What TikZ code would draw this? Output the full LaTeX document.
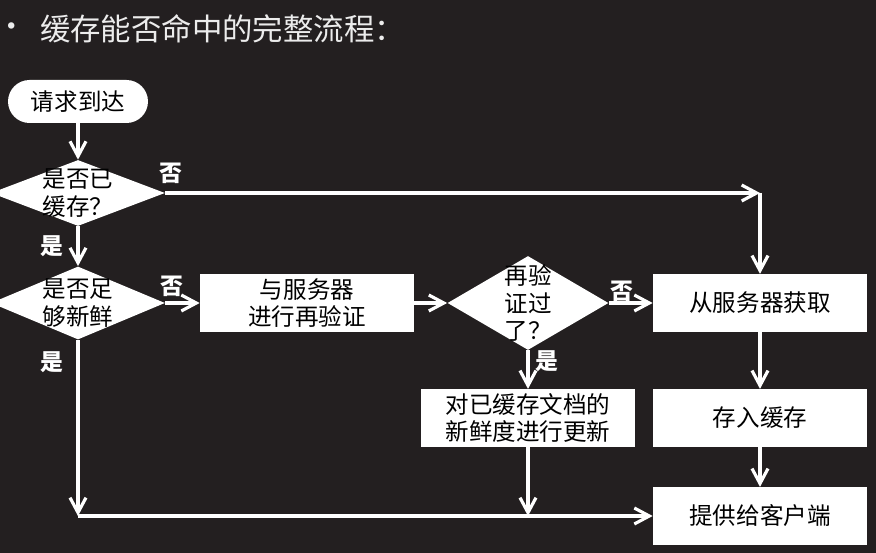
\documentclass[tikz,border=0pt]{standalone}
\usepackage{fontspec}
\setmainfont{Noto Sans CJK SC}
\usetikzlibrary{arrows.meta,shapes.geometric}
\definecolor{bgdark}{RGB}{35,31,32}
\definecolor{titlegray}{RGB}{236,236,236}
\tikzset{
  boxfont/.style={font=\fontsize{13.4}{15.5}\selectfont},
  flowbox/.style={fill=white, minimum width=4.28cm, minimum height=1.15cm, inner sep=0pt, align=center, boxfont},
  startbox/.style={fill=white, rounded corners=0.43cm, minimum width=2.8cm, minimum height=0.86cm, inner sep=0pt, boxfont},
  decision/.style={diamond, fill=white, inner sep=0pt},
  inside/.style={align=left, inner sep=0pt, boxfont},
  answer/.style={text=white, font=\fontsize{13}{14}\selectfont\bfseries},
  flow/.style={draw=white, line width=1.8pt, -{Straight Barb[length=3mm,width=3.2mm]}}
}
\begin{document}
\begin{tikzpicture}[x=0.02cm, y=-0.02cm]
        \fill[bgdark] (0,0) rectangle (876,553);
        \useasboundingbox (0,0) rectangle (876,553);
        \node[text=titlegray, font=\fontsize{17.3}{20}\selectfont] (bullet) at (12,30) {•};
        \node[text=titlegray, font=\fontsize{17.3}{20}\selectfont, anchor=west] (heading) at (34,29) {缓存能否命中的完整流程：};
        \node[startbox] (arrive) at (78,101.5) {请求到达};
        \node[decision, minimum width=3.48cm, minimum height=1.32cm] (cached) at (78,193) {};
        \node[inside] (cachedtext) at (cached) {是否已\\缓存？};
        \node[decision, minimum width=3.48cm, minimum height=1.46cm] (fresh) at (78,303) {};
        \node[inside] (freshtext) at (fresh) {是否足\\够新鲜};
        \node[flowbox] (revalidate) at (307,303) {与服务器\\进行再验证};
        \node[decision, minimum width=3.22cm, minimum height=1.88cm] (passed) at (528,303) {};
        \node[inside] (passedtext) at (passed) {再验\\证过\\了？};
        \node[flowbox] (fetch) at (760,303) {从服务器获取};
        \node[flowbox] (update) at (528,418) {对已缓存文档的\\新鲜度进行更新};
        \node[flowbox] (store) at (760,418) {存入缓存};
        \node[flowbox] (serve) at (760,516) {提供给客户端};
        \coordinate (topturn) at (cached.east -| fetch.north);
        \coordinate (bottomturn) at (fresh.south |- serve.west);
        \draw[flow] (arrive) -- (cached);
        \draw[flow] (cached.east) -- (topturn);
        \draw[flow] (topturn) -- (fetch.north);
        \draw[flow] (cached) -- (fresh);
        \draw[flow] (fresh) -- (revalidate);
        \draw[flow] (revalidate) -- (passed);
        \draw[flow] (passed) -- (fetch);
        \draw[flow] (passed) -- (update);
        \draw[flow] (fetch) -- (store);
        \draw[flow] (store) -- (serve);
        \draw[flow] (fresh.south) -- (bottomturn);
        \draw[flow] (bottomturn) -- (serve.west);
        \draw[flow] (update.south) -- (update.south |- bottomturn);
        \node[answer] (cachedno) at (171,173) {否};
        \node[answer] (cachedyes) at (52,246) {是};
        \node[answer] (freshno) at (172,286) {否};
        \node[answer] (freshyes) at (52,362) {是};
        \node[answer] (passedno) at (622,291) {否};
        \node[answer] (passedyes) at (547,361) {是};
      \end{tikzpicture}
\end{document}
